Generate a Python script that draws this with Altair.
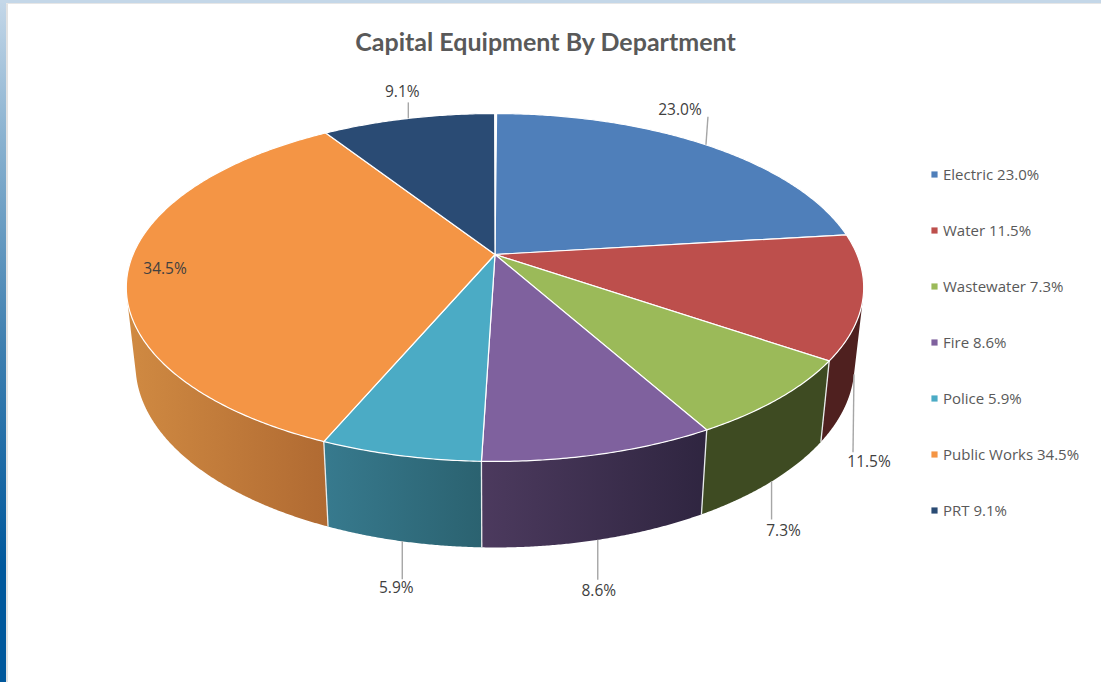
import altair as alt
import numpy as np
import pandas as pd

# Department shares, in percent, clockwise from twelve o'clock
departments = ["Electric", "Water", "Wastewater", "Fire", "Police", "Public Works", "PRT"]
shares = [23.0, 11.5, 7.3, 8.6, 5.9, 34.5, 9.1]
top_colors = ["#4f7fba", "#bd4f4c", "#9bba59", "#7f619e", "#4babc5", "#f49545", "#2a4b74"]
side_left = ["#3b5f8b", "#4f201f", "#3e4b22", "#4c3a5e", "#377a8e", "#d08a42", "#1f3857"]
side_right = ["#3b5f8b", "#4f201f", "#3e4b22", "#2f2540", "#2b6270", "#b06a32", "#1f3857"]

# Where each value label sits relative to its slice's anchor on the rim
leader_dx = [2, -1, 0, 0, 0, 0, 0]
leader_dy = [-28, 78, 38, 40, 38, 0, -16]
label_dx = [-26, 15, 12, 1, -6, 0, -6]
label_dy = [-35, 88, 50, 51, 47, 0, -26]
label_x_inside = 165
label_y_inside = 269

# Pie geometry: a disc seen in perspective, with a solid edge below it
CX, CY = 495.0, 254.5
RX, RY, TILT = 362.0, 167.7, 0.1896
START_ANGLE = 0.3
EDGE_SHRINK, EDGE_DROP, EDGE_SLOPE, FRONT_Y = 0.975, 86.0, 0.05, 461.0
W, H = 1101, 682


def rim(deg):
    t = np.radians(deg)
    u, v = np.sin(t), np.cos(t)
    d = 1 + TILT * v
    return CX + RX * u / d, CY - RY * v / d


def lower(x, y):
    return CX + EDGE_SHRINK * (x - CX), y + EDGE_DROP + EDGE_SLOPE * (y - FRONT_Y)


def faces_viewer(deg):
    """True where the outer edge of the disc turns towards the viewer."""
    x0, y0 = rim(deg - 0.1)
    x1, y1 = rim(deg + 0.1)
    px, py = rim(deg)
    qx, qy = lower(px, py)
    return (x1 - x0) * (qy - py) - (y1 - y0) * (qx - px) < 0


def polygon(points, **props):
    ring = [list(map(float, p)) for p in points]
    ring.append(ring[0])
    return {"type": "Feature", "properties": props,
            "geometry": {"type": "Polygon", "coordinates": [ring]}}


def polyline(points, **props):
    return {"type": "Feature", "properties": props,
            "geometry": {"type": "LineString",
                         "coordinates": [list(map(float, p)) for p in points]}}


pixels = dict(type="identity", scale=1, translate=[0, 0])

edges = START_ANGLE + np.cumsum([0.0] + shares) * 3.6
legend_labels = [f"{d} {s:.1f}%" for d, s in zip(departments, shares)]

top_faces, side_layers, side_edges, leaders, label_rows = [], [], [], [], []
for i, label in enumerate(legend_labels):
    a0, a1 = edges[i], edges[i + 1]
    arc = np.linspace(a0, a1, max(int(a1 - a0) * 2, 8))
    top_faces.append(polygon([(CX, CY)] + [rim(a) for a in arc], legend=label))

    # Visible part of the slice's edge, shaded from left to right
    visible = [a for a in np.linspace(a0, a1, max(int(a1 - a0) * 4, 12)) if faces_viewer(a)]
    if len(visible) > 1:
        upper = [rim(a) for a in visible]
        band = polygon(upper + [lower(*p) for p in reversed(upper)])
        side_layers.append(
            alt.Chart(alt.Data(values=[band])).mark_geoshape(
                fill=alt.Gradient(
                    gradient="linear", x1=0, x2=1, y1=0, y2=0,
                    stops=[
                        alt.GradientStop(offset=0, color=side_left[i]),
                        alt.GradientStop(offset=1, color=side_right[i]),
                    ],
                ),
                strokeWidth=0,
            ).project(**pixels)
        )

    if faces_viewer(a0):
        p = rim(a0)
        side_edges.append(polyline([p, lower(*p)]))

    # Leader line and value label anchored at the slice's midpoint
    mid = (a0 + a1) / 2
    p = rim(mid)
    anchor = lower(*p) if 90.0 < mid < 270.0 else p
    if departments[i] == "Public Works":
        label_rows.append({"x": label_x_inside, "y": label_y_inside, "t": f"{shares[i]:.1f}%"})
    else:
        leaders.append(polyline([anchor, (anchor[0] + leader_dx[i], anchor[1] + leader_dy[i])]))
        label_rows.append({"x": anchor[0] + label_dx[i], "y": anchor[1] + label_dy[i],
                           "t": f"{shares[i]:.1f}%"})

edge_lines = alt.Chart(alt.Data(values=side_edges)).mark_geoshape(
    filled=False, stroke="#e8ecec", strokeWidth=1.3
).project(**pixels)

faces = alt.Chart(alt.Data(values=top_faces)).mark_geoshape(
    stroke="#ffffff", strokeWidth=1.2
).encode(
    fill=alt.Fill(
        "properties.legend:N",
        scale=alt.Scale(domain=legend_labels, range=top_colors),
        legend=alt.Legend(
            title=None, orient="none", legendX=927, legendY=167,
            symbolType="square", symbolSize=38, symbolStrokeWidth=0,
            labelFont="Open Sans", labelFontSize=15, labelColor="#595959",
            rowPadding=40, labelOffset=1, labelLimit=200,
        ),
    )
).project(**pixels)

leader_lines = alt.Chart(alt.Data(values=leaders)).mark_geoshape(
    filled=False, stroke="#a6a6a6", strokeWidth=1.4
).project(**pixels)

value_labels = alt.Chart(pd.DataFrame(label_rows)).mark_text(
    font="Open Sans", fontSize=15.5, color="#404040", baseline="middle", align="center"
).encode(longitude="x:Q", latitude="y:Q", text="t:N").project(**pixels)

# Window edge running along the left and top of the page
left_bar = alt.Chart(pd.DataFrame({"a": [0]})).mark_rect(
    fill=alt.Gradient(
        gradient="linear", x1=0, x2=0, y1=0, y2=1,
        stops=[
            alt.GradientStop(offset=0, color="#c4d7e8"),
            alt.GradientStop(offset=0.2, color="#8ab2d0"),
            alt.GradientStop(offset=0.5, color="#4080b0"),
            alt.GradientStop(offset=0.83, color="#00589c"),
            alt.GradientStop(offset=1, color="#00589c"),
        ],
    )
).encode(x=alt.value(0), x2=alt.value(6), y=alt.value(0), y2=alt.value(H))
left_shade = alt.Chart(pd.DataFrame({"a": [0]})).mark_rect(fill="#e2e2e2").encode(
    x=alt.value(6), x2=alt.value(8), y=alt.value(3), y2=alt.value(H)
)
top_bar = alt.Chart(pd.DataFrame({"a": [0]})).mark_rect(fill="#c4d7e8").encode(
    x=alt.value(0), x2=alt.value(W), y=alt.value(0), y2=alt.value(3)
)
top_shade = alt.Chart(pd.DataFrame({"a": [0]})).mark_rect(fill="#e6e6e6").encode(
    x=alt.value(6), x2=alt.value(W), y=alt.value(3), y2=alt.value(4)
)

chart = (
    alt.layer(*side_layers, edge_lines, faces, leader_lines, value_labels,
              left_bar, left_shade, top_bar, top_shade)
    .properties(
        width=W,
        height=H,
        padding=0,
        background="#ffffff",
        autosize=alt.AutoSizeParams(type="none"),
        title=alt.TitleParams(
            "Capital Equipment By Department",
            anchor="middle", frame="group", font="Lato", fontSize=25, fontWeight="bold",
            color="#595959", dy=60, dx=-5,
        ),
    )
    .configure_view(stroke=None)
)

chart.save("out.html", embed_options={"renderer": "svg", "actions": False})
